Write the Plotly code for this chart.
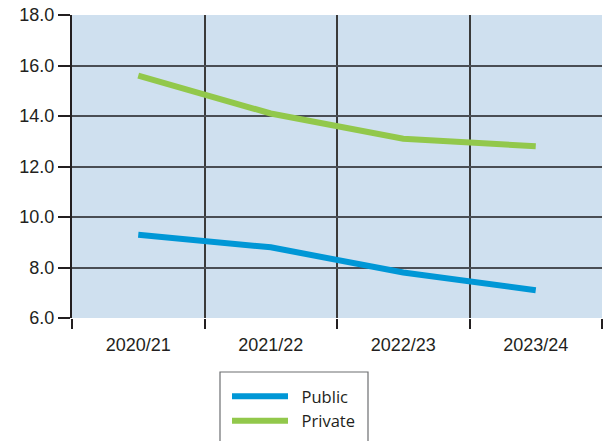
import plotly.graph_objects as go

years = ["2020/21", "2021/22", "2022/23", "2023/24"]
public = [9.3, 8.8, 7.8, 7.1]
private = [15.6, 14.1, 13.1, 12.8]
y_ticks = [6, 8, 10, 12, 14, 16, 18]
y_labels = ["6.0", "8.0", "10.0", "12.0", "14.0", "16.0", "18.0"]

W, H = 610, 441
L, R, T, B = 72, 8, 15, 123
PW, PH = W - L - R, H - T - B


def px(x):
    return (x - L) / PW


def py(y):
    return (H - B - y) / PH


fig = go.Figure()
fig.add_trace(go.Scatter(x=years, y=public, mode="lines", name="\u00a0\u00a0Public",
                         line=dict(color="#0097d6", width=6)))
fig.add_trace(go.Scatter(x=years, y=private, mode="lines", name="\u00a0\u00a0Private",
                         line=dict(color="#92c84b", width=6)))

fig.update_layout(
    width=W, height=H,
    margin=dict(l=L, r=R, t=T, b=B, autoexpand=False),
    paper_bgcolor="white",
    plot_bgcolor="#cfe0ef",
    font=dict(family="Liberation Sans", size=18, color="#231f20"),
    showlegend=True,
    legend=dict(x=px(227), y=py(379), xanchor="left", yanchor="top",
                bgcolor="rgba(0,0,0,0)", borderwidth=0,
                font=dict(family="Open Sans", size=16.5, color="#231f20"),
                itemwidth=56, tracegroupgap=0),
    shapes=[dict(type="rect", xref="paper", yref="paper",
                 x0=px(220), x1=px(368), y0=py(450), y1=py(372),
                 line=dict(color="#6d6e71", width=1.2), fillcolor="rgba(0,0,0,0)")],
)
fig.update_xaxes(
    type="category", range=[-0.5, 3.5], automargin=False,
    tickson="boundaries", ticks="outside", ticklen=10, tickwidth=1.5, tickcolor="#231f20",
    ticklabelstandoff=14,
    showgrid=True, gridcolor="#3a3a3a", gridwidth=1.5,
    showline=False, zeroline=False,
)
fig.update_yaxes(
    range=[6, 18], tickvals=y_ticks, ticktext=y_labels, automargin=False,
    ticks="outside", ticklen=12, tickwidth=1.5, tickcolor="#231f20",
    showgrid=True, gridcolor="#4a4e54", gridwidth=1.5,
    showline=True, linecolor="#231f20", linewidth=2, zeroline=False,
)

fig.write_html("out.html", config={"displayModeBar": False},
               post_script="document.body.style.margin='0px';")
